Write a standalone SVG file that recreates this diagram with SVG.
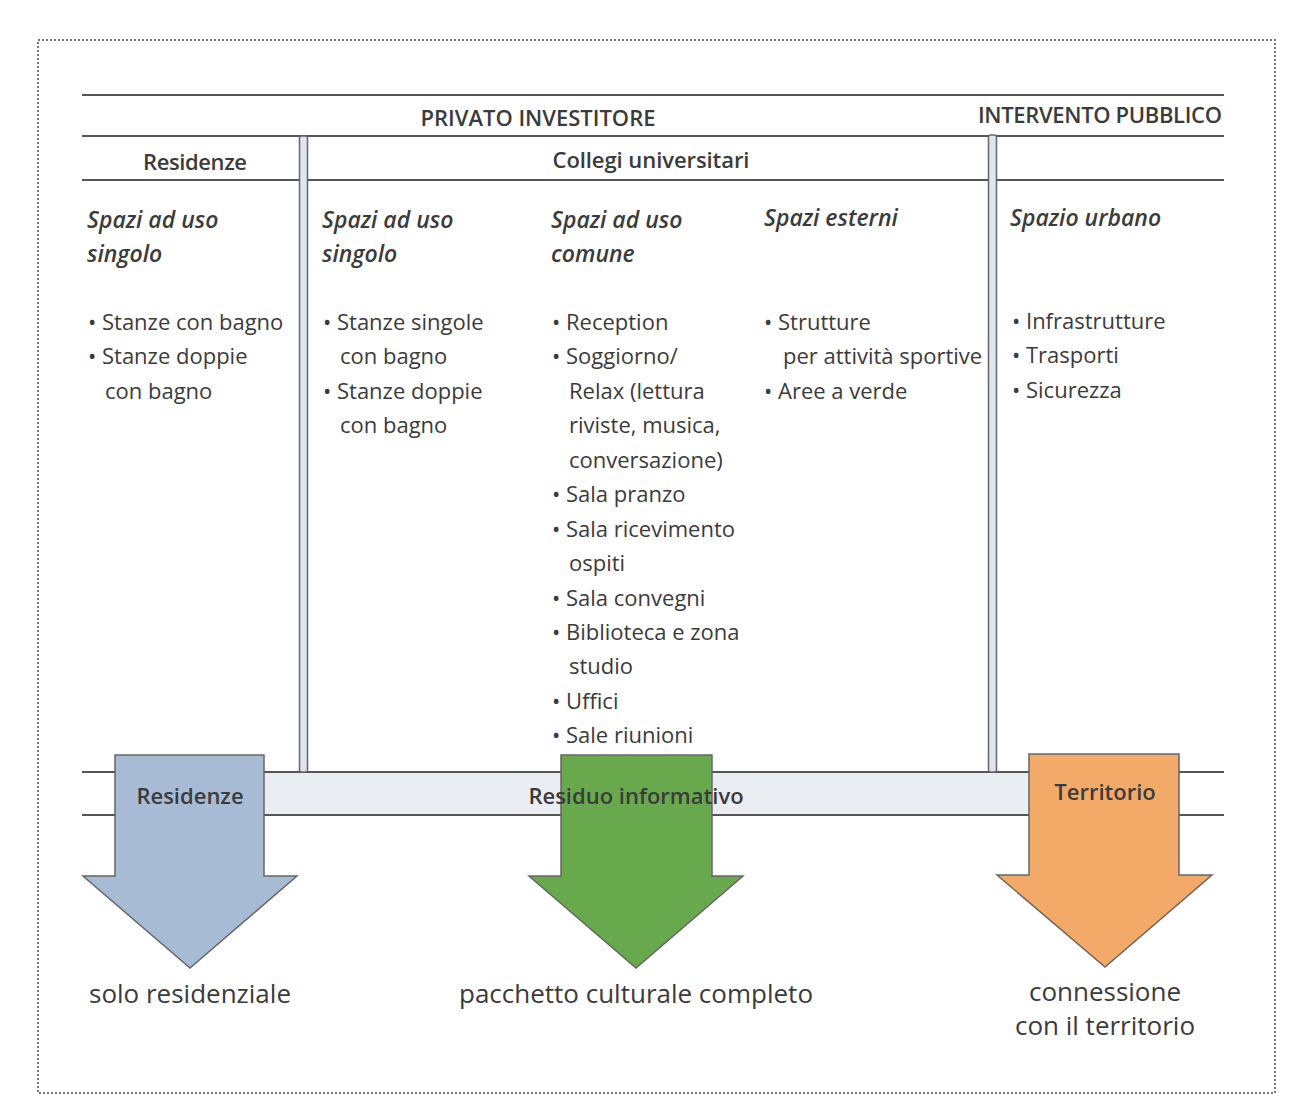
<svg xmlns="http://www.w3.org/2000/svg" width="1309" height="1118" viewBox="0 0 1309 1118">
<style>
.t{font-family:"Open Sans","Noto Sans","Liberation Sans",sans-serif;fill:#3b3b3b;font-size:22px}
.h{font-family:"Open Sans","Noto Sans","Liberation Sans",sans-serif;fill:#3b3b3b;font-size:22px;font-weight:600}
.i{font-family:"Open Sans","Noto Sans","Liberation Sans",sans-serif;fill:#3b3b3b;font-size:23px;font-style:italic;font-weight:600}
.b{font-family:"Open Sans","Noto Sans","Liberation Sans",sans-serif;fill:#3b3b3b;font-size:26px}
.ln{stroke:#555;stroke-width:2;fill:none}
.bar{fill:#dfe6ef;stroke:#666;stroke-width:1.5}
.arr{stroke:#666;stroke-width:1.5}
</style>
<rect x="0" y="0" width="1309" height="1118" fill="#fff"/>
<rect x="38" y="40" width="1237" height="1053" fill="none" stroke="#777" stroke-width="2" stroke-dasharray="2,2"/>

<g id="table">
  <line class="ln" x1="82" y1="95" x2="1224" y2="95"/>
  <line class="ln" x1="82" y1="136" x2="1224" y2="136"/>
  <line class="ln" x1="82" y1="180" x2="1224" y2="180"/>
  <rect x="264" y="772" width="765" height="43" fill="#eaedf1"/>
  <line class="ln" x1="82" y1="772" x2="1224" y2="772"/>
  <line class="ln" x1="82" y1="815" x2="1224" y2="815"/>
  <rect class="bar" x="299.5" y="136" width="8" height="636" rx="2"/>
  <rect class="bar" x="988.5" y="135" width="8" height="637" rx="2"/>
</g>

<g id="headers">
  <text class="h" x="538" y="126" text-anchor="middle" textLength="235">PRIVATO INVESTITORE</text>
  <text class="h" x="1100" y="123" text-anchor="middle" textLength="244">INTERVENTO PUBBLICO</text>
  <text class="h" x="195" y="170" text-anchor="middle" textLength="104">Residenze</text>
  <text class="h" x="651" y="168" text-anchor="middle" textLength="197">Collegi universitari</text>
</g>

<g id="col-residenze">
  <text class="i" x="87" y="228">Spazi ad uso</text>
  <text class="i" x="87" y="262">singolo</text>
  <text class="t" x="88" y="330">• Stanze con bagno</text>
  <text class="t" x="88" y="364">• Stanze doppie</text>
  <text class="t" x="105" y="399">con bagno</text>
</g>

<g id="col-singolo">
  <text class="i" x="322" y="228">Spazi ad uso</text>
  <text class="i" x="322" y="262">singolo</text>
  <text class="t" x="323" y="330">• Stanze singole</text>
  <text class="t" x="340" y="364">con bagno</text>
  <text class="t" x="323" y="399">• Stanze doppie</text>
  <text class="t" x="340" y="433">con bagno</text>
</g>

<g id="col-comune">
  <text class="i" x="551" y="228">Spazi ad uso</text>
  <text class="i" x="551" y="262">comune</text>
  <text class="t" x="552" y="330">• Reception</text>
  <text class="t" x="552" y="364">• Soggiorno/</text>
  <text class="t" x="569" y="399">Relax (lettura</text>
  <text class="t" x="569" y="433">riviste, musica,</text>
  <text class="t" x="569" y="468">conversazione)</text>
  <text class="t" x="552" y="502">• Sala pranzo</text>
  <text class="t" x="552" y="537">• Sala ricevimento</text>
  <text class="t" x="569" y="571">ospiti</text>
  <text class="t" x="552" y="606">• Sala convegni</text>
  <text class="t" x="552" y="640">• Biblioteca e zona</text>
  <text class="t" x="569" y="674">studio</text>
  <text class="t" x="552" y="709">• Uffici</text>
  <text class="t" x="552" y="743">• Sale riunioni</text>
</g>

<g id="col-esterni">
  <text class="i" x="764" y="226">Spazi esterni</text>
  <text class="t" x="764" y="330">• Strutture</text>
  <text class="t" x="783" y="364">per attività sportive</text>
  <text class="t" x="764" y="399">• Aree a verde</text>
</g>

<g id="col-urbano">
  <text class="i" x="1010" y="226">Spazio urbano</text>
  <text class="t" x="1012" y="329">• Infrastrutture</text>
  <text class="t" x="1012" y="363">• Trasporti</text>
  <text class="t" x="1012" y="398">• Sicurezza</text>
</g>

<g id="arrow-residenze">
  <polygon class="arr" fill="#a8bbd5" points="115,755 264,755 264,876 297,876 190,968 83,876 115,876"/>
  <text class="h" x="190" y="804" text-anchor="middle">Residenze</text>
  <text class="b" x="190" y="1003" text-anchor="middle">solo residenziale</text>
</g>

<g id="arrow-residuo">
  <polygon class="arr" fill="#69a94e" points="561,755 712,755 712,876 743,876 636,968 529,876 561,876"/>
  <text class="h" x="636" y="804" text-anchor="middle">Residuo informativo</text>
  <text class="b" x="636" y="1003" text-anchor="middle">pacchetto culturale completo</text>
</g>

<g id="arrow-territorio">
  <polygon class="arr" fill="#f3aa68" points="1029,754 1179,754 1179,875 1212,875 1105,967 997,875 1029,875"/>
  <text class="h" x="1105" y="800" text-anchor="middle">Territorio</text>
  <text class="b" x="1105" y="1001" text-anchor="middle">connessione</text>
  <text class="b" x="1105" y="1035" text-anchor="middle">con il territorio</text>
</g>
</svg>
